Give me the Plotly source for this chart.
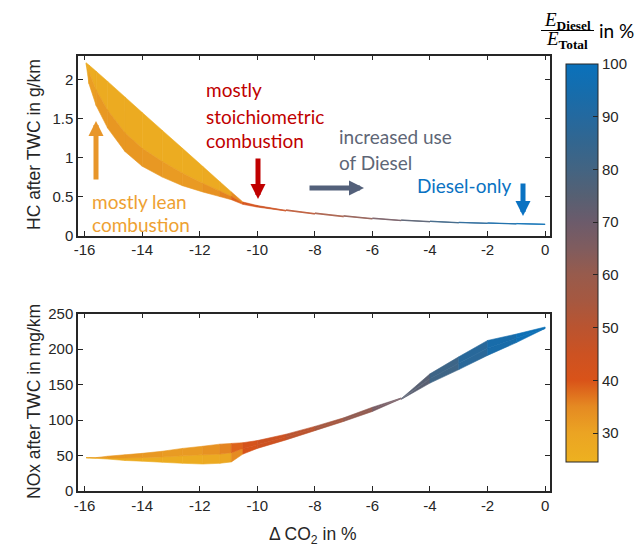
import plotly.graph_objects as go
from plotly.colors import sample_colorscale

# ---------------- data ----------------
delta_co2 = [-15.95, -15.85, -15.6, -15.2, -14.6, -14.0, -13.3, -12.6, -11.9, -11.3, -10.9,
             -10.5, -10.0, -9.0, -8.0, -7.0, -6.0, -5.0, -4.0, -3.0, -2.0, -1.0, 0.0]

# HC after TWC (g/km): three mesh rows of the surface
hc_row_a = [2.22, 2.19, 2.11, 1.98, 1.78, 1.58, 1.35, 1.12, 0.89, 0.69, 0.56,
            0.43, 0.385, 0.33, 0.29, 0.255, 0.225, 0.20, 0.185, 0.17, 0.162, 0.155, 0.148]
hc_row_b = [2.21, 2.10, 1.87, 1.61, 1.32, 1.12, 0.95, 0.80, 0.67, 0.57, 0.50,
            0.415, 0.375, 0.322, 0.282, 0.248, 0.218, 0.195, 0.18, 0.166, 0.158, 0.151, 0.145]
hc_row_c = [2.20, 1.95, 1.67, 1.38, 1.08, 0.89, 0.75, 0.64, 0.56, 0.50, 0.46,
            0.40, 0.365, 0.315, 0.275, 0.24, 0.212, 0.19, 0.175, 0.162, 0.155, 0.148, 0.142]

# NOx after TWC (mg/km): same mesh rows
nox_row_a = [47, 46.5, 46, 45, 43, 42, 40.5, 39, 38, 39, 41,
             52, 60, 72, 85, 98, 112, 129, 152, 171, 191, 209, 228]
nox_row_b = [47, 47, 47, 46.5, 46.5, 47, 48, 49.5, 51, 52, 54,
             60, 65, 76, 88, 100, 115, 130, 158, 180, 201, 215, 229]
nox_row_c = [47, 47.5, 48, 49, 51, 53, 56, 60, 63, 66, 67,
             68, 71, 80, 91, 103, 118, 131, 165, 189, 212, 221, 231]

# Diesel energy share E_Diesel/E_Total (%) at the mesh nodes
share_row_a = [25, 25, 25, 25, 25, 25, 25, 25, 25, 26, 27,
               40, 42, 47, 52, 58, 64, 70, 78, 85, 91, 96, 100]
share_row_b = [26, 28, 29, 29, 29, 29, 28, 28, 29, 30, 32,
               40, 42, 47, 52, 58, 64, 70, 78, 85, 91, 96, 100]
share_row_c = [28, 33, 35, 36, 36, 36, 36, 35, 36, 39, 41,
               41, 43, 48, 53, 59, 65, 71, 79, 86, 92, 97, 100]

# colour map of the share
share_levels = [24.5, 30, 35, 40, 45, 50, 55, 60, 65, 70, 75, 80, 85, 90, 95, 100]
share_colors = ['rgb(237,177,32)', 'rgb(235,164,35)', 'rgb(229,138,34)', 'rgb(217,83,25)',
                'rgb(204,82,34)', 'rgb(186,84,48)', 'rgb(166,88,64)', 'rgb(152,91,76)',
                'rgb(128,92,94)', 'rgb(108,91,107)', 'rgb(86,96,115)', 'rgb(67,100,130)',
                'rgb(51,102,143)', 'rgb(36,105,159)', 'rgb(21,109,173)', 'rgb(10,113,187)']
share_ticks = [30, 40, 50, 60, 70, 80, 90, 100]

x_ticks = [-16, -14, -12, -10, -8, -6, -4, -2, 0]
x_ticktext = ['-16', '-14', '-12', '-10', '-8', '-6', '-4', '-2', '0']
hc_ticks = [0, 0.5, 1, 1.5, 2]
hc_ticktext = ['0', '0.5', '1', '1.5', '2']
nox_ticks = [0, 50, 100, 150, 200, 250]

CMIN, CMAX = 24.5, 100.0
colorscale = [[(v - CMIN) / (CMAX - CMIN), c] for v, c in zip(share_levels, share_colors)]

W, H = 637, 547
def px(xp):
    return xp / W
def py(yp):
    return 1 - yp / H

fig = go.Figure()

def add_band(rows, shares, xa, ya):
    for r in range(len(rows) - 1):
        top, bot = rows[r], rows[r + 1]
        s_top, s_bot = shares[r], shares[r + 1]
        for i in range(len(delta_co2) - 1):
            xs = [delta_co2[i], delta_co2[i + 1], delta_co2[i + 1], delta_co2[i], delta_co2[i]]
            ys = [top[i], top[i + 1], bot[i + 1], bot[i], top[i]]
            s = (s_top[i] + s_top[i + 1] + s_bot[i] + s_bot[i + 1]) / 4.0
            col = sample_colorscale(colorscale, [(s - CMIN) / (CMAX - CMIN)])[0]
            fig.add_trace(go.Scatter(x=xs, y=ys, mode='lines', fill='toself',
                                     fillcolor=col, line=dict(color=col, width=0.6),
                                     hoverinfo='skip', showlegend=False,
                                     xaxis=xa, yaxis=ya))

add_band([hc_row_a, hc_row_b, hc_row_c], [share_row_a, share_row_b, share_row_c], 'x', 'y')
add_band([nox_row_a, nox_row_b, nox_row_c], [share_row_a, share_row_b, share_row_c], 'x2', 'y2')

# colour bar
fig.add_trace(go.Scatter(
    x=[None], y=[None], mode='markers', showlegend=False, hoverinfo='skip',
    marker=dict(color=[CMIN], colorscale=colorscale, cmin=CMIN, cmax=CMAX, showscale=True,
                colorbar=dict(thickness=32, thicknessmode='pixels',
                              len=398 / H, lenmode='fraction',
                              x=px(566), xanchor='left', xpad=0,
                              y=py(64), yanchor='top', ypad=0,
                              outlinewidth=1, outlinecolor='#262626',
                              ticks='inside', ticklen=5, tickcolor='#262626', tickwidth=1,
                              tickvals=share_ticks,
                              tickfont=dict(family='Liberation Sans', size=15, color='#262626'))),
    xaxis='x', yaxis='y'))

axis_common = dict(showline=True, linecolor='#262626', linewidth=1.5, mirror='ticks',
                   ticks='inside', ticklen=5, tickwidth=1.2, tickcolor='#262626',
                   showgrid=False, zeroline=False,
                   tickfont=dict(family='Liberation Sans', size=15, color='#262626'))

fig.update_layout(
    width=W, height=H, margin=dict(l=0, r=0, t=0, b=0, autoexpand=False),
    paper_bgcolor='white', plot_bgcolor='white', showlegend=False,
    xaxis=dict(domain=[px(78), px(550)], range=[-16.23, 0.17], anchor='y',
               tickvals=x_ticks, ticktext=x_ticktext, **axis_common),
    yaxis=dict(domain=[py(235.5), py(55.7)], range=[0, 2.31], anchor='x',
               tickvals=hc_ticks, ticktext=hc_ticktext, **axis_common),
    xaxis2=dict(domain=[px(78), px(550)], range=[-16.23, 0.17], anchor='y2',
                tickvals=x_ticks, ticktext=x_ticktext, **axis_common),
    yaxis2=dict(domain=[py(491), py(313.5)], range=[0, 250], anchor='x2',
                tickvals=nox_ticks, **axis_common),
)

ann = []
def label(text, xp, yp, color, size=19, family='Lato', xanchor='left', angle=0):
    ann.append(dict(text=text, x=px(xp), y=py(yp), xref='paper', yref='paper',
                    xanchor=xanchor, yanchor='middle', showarrow=False, textangle=angle,
                    font=dict(family=family, size=size, color=color)))

def arrow(x_tip, y_tip, x_tail, y_tail, color):
    ann.append(dict(text='', x=px(x_tip), y=py(y_tip), xref='paper', yref='paper',
                    ax=x_tail - x_tip, ay=y_tail - y_tip, showarrow=True,
                    arrowhead=2, arrowsize=0.6, arrowwidth=5, arrowcolor=color))

# axis titles
label('HC after TWC in g/km', 34, 145, '#262626', 17.5, 'Liberation Sans', 'center', -90)
label('NOx after TWC in mg/km', 34, 402, '#262626', 17.5, 'Liberation Sans', 'center', -90)
label('Δ CO<sub>2</sub> in %', 313, 535, '#262626', 17.5, 'Liberation Sans', 'center')

# text annotations
orange, red, gray, blue = '#EEA132', '#C00000', '#5E6676', '#0A72C2'
label('mostly lean', 90, 202, orange)
label('combustion', 90, 224, orange)
label('mostly', 204, 90, red)
label('stoichiometric', 204, 116, red)
label('combustion', 204, 141, red)
label('increased use', 337, 137, gray)
label('of Diesel', 337, 162, gray)
label('Diesel-only', 415, 185, blue)

arrow(96, 121, 96, 181, '#E8962A')
arrow(258, 199, 258, 157, '#C00000')
arrow(364, 188, 308, 188, '#53607A')
arrow(523, 216, 523, 182, '#0A72C2')

# colour bar title (fraction)
label('<i>E</i><sub><b>Diesel</b></sub>', 567, 21, '#000000', 19, 'Liberation Serif', 'center')
label('<i>E</i><sub><b>Total</b></sub>', 567, 40, '#000000', 19, 'Liberation Serif', 'center')
label('in %', 597, 31, '#000000', 19, 'Lato', 'left')

fig.update_layout(annotations=ann,
                  shapes=[dict(type='line', xref='paper', yref='paper',
                               x0=px(541), x1=px(594), y0=py(30.5), y1=py(30.5),
                               line=dict(color='black', width=1))])

fig.write_html('out.html', config={'displayModeBar': False},
               post_script="document.body.style.margin='0';document.body.style.overflow='hidden';")
